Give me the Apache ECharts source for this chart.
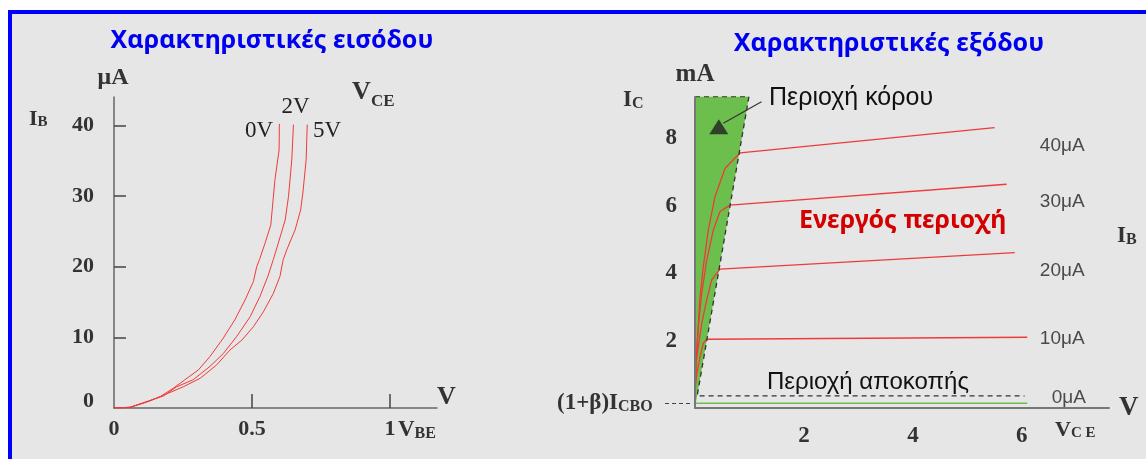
<!DOCTYPE html>
<html>
<head>
<meta charset="utf-8">
<style>
  html, body { margin: 0; padding: 0; background: #ffffff; }
  #frame {
    position: absolute; left: 8px; top: 10px; width: 1138px; height: 449px;
    box-sizing: border-box; border-left: 4px solid #0000ff; border-top: 4px solid #0000ff;
    background: #e6e6e6;
  }
  #chart { position: absolute; left: 0; top: 0; width: 1146px; height: 459px; }
</style>
<script src="https://cdn.jsdelivr.net/npm/echarts@6/dist/echarts.min.js"></script>
</head>
<body>
<div id="frame"></div>
<div id="chart"></div>
<script>
// ---- Input characteristics: I_B (μA) vs V_BE (V) for three V_CE values ----
const vceLabels = ['0V', '2V', '5V'];
const inputCurve0V = [[0,0],[0.058,0.1],[0.106,0.67],[0.167,1.6],[0.215,2.8],[0.257,4.0],[0.306,5.4],[0.348,7.3],[0.396,9.9],[0.438,12.5],[0.475,15.3],[0.505,17.9],[0.517,20.0],[0.527,21.0],[0.547,23.3],[0.568,25.9],[0.583,32.3],[0.598,36.5],[0.599,40.2]];
const inputCurve2V = [[0,0],[0.058,0.1],[0.118,0.9],[0.179,1.7],[0.227,3.0],[0.287,4.0],[0.348,5.9],[0.396,7.7],[0.444,10.1],[0.493,12.9],[0.529,15.8],[0.559,18.8],[0.577,21.0],[0.595,23.3],[0.620,26.6],[0.632,29.9],[0.644,35.1],[0.650,40.1]];
const inputCurve5V = [[0,0],[0.058,0.1],[0.130,1.0],[0.197,2.1],[0.251,3.0],[0.312,4.2],[0.372,6.1],[0.420,8.2],[0.463,9.6],[0.505,11.5],[0.541,13.6],[0.577,16.2],[0.601,18.6],[0.613,21.0],[0.626,22.4],[0.656,25.2],[0.676,28.0],[0.684,30.4],[0.696,35.1],[0.700,40.1]];
const ibTicks = [10, 20, 30, 40];
const ibTickLabels = [0, 10, 20, 30, 40];
const vbeTicks = [0.5, 1];
const vbeTickLabels = [0, 0.5, 1];

// ---- Output characteristics: I_C (mA) vs V_CE (V) for several I_B values ----
const baseCurrentLabels = ['40μA', '30μA', '20μA', '10μA', '0μA'];
const outputCurve40 = [[0,0.15],[0,1.04],[0.037,1.82],[0.092,3.30],[0.152,4.19],[0.244,5.28],[0.367,6.27],[0.55,7.11],[0.734,7.42],[0.83,7.57],[5.5,8.32]];
const outputCurve30 = [[0,0.15],[0.02,1.3],[0.055,2.31],[0.123,3.40],[0.215,4.39],[0.336,5.28],[0.459,5.83],[0.642,6.02],[5.72,6.64]];
const outputCurve20 = [[0,0.15],[0.018,1.34],[0.061,1.82],[0.123,2.51],[0.215,3.20],[0.306,3.80],[0.459,4.12],[5.87,4.61]];
const outputCurve10 = [[0,0.15],[0,0.63],[0.037,1.04],[0.092,1.52],[0.152,1.92],[0.215,2.04],[6.1,2.10]];
const outputCurve0 = [[0,0.14],[6.1,0.14]];
const baseLabelLevels = [7.77, 6.12, 4.07, 2.05, 0.31];
const baseLabelVce = [6.33, 6.33, 6.33, 6.33, 6.55];
const saturationRegion = [[0,0],[0,9.24],[0.99,9.24]];
const regionBoundary = [[0,9.24],[0.99,9.24],[0.04,0.36],[6.05,0.36]];
const arrowLeader = [[1.22,9.09],[0.52,8.45]];
const arrowHead = [[0.437,8.35]];
const icTicks = [2, 4, 6, 8];
const vceTicks = [2, 4, 6];

const SERIF = '"Liberation Serif", "Times New Roman", serif';
const SANS = '"Liberation Sans", Arial, sans-serif';
const NARROW = '"Liberation Sans Narrow", "Liberation Sans", Arial, sans-serif';
const TITLE = '"Noto Sans", "Open Sans", sans-serif';
const RED = '#f03a3a';
const GREEN = '#6cbf4c';
const INK = '#333333';

const chart = echarts.init(document.getElementById('chart'), null, { renderer: 'canvas' });

function text(x, y, str, style) {
  return { type: 'text', x: x, y: y, silent: true, z: 100,
    style: Object.assign({ text: str, align: 'left', verticalAlign: 'middle', fill: INK }, style) };
}
function serifBold(size) { return { fontFamily: SERIF, fontWeight: 'bold', fontSize: size, fill: INK }; }

const axisNumLabel = {
  fontFamily: SERIF, fontWeight: 'bold', fontSize: 22, color: INK
};

function curve(data, xi, color, width) {
  return { type: 'line', xAxisIndex: xi, yAxisIndex: xi, data: data, showSymbol: false, symbol: 'none',
    smooth: false, lineStyle: { color: color, width: width }, z: 3, silent: true };
}

const option = {
  animation: false,
  backgroundColor: 'transparent',
  grid: [
    { left: 114, top: 97, width: 323, height: 311 },
    { left: 695, top: 97, width: 414, height: 311 }
  ],
  xAxis: [
    { type: 'value', gridIndex: 0, min: 0, max: 1.17,
      axisLine: { lineStyle: { color: '#666', width: 1.5 } },
      axisTick: { show: true, inside: true, length: 14, customValues: vbeTicks, lineStyle: { color: '#444', width: 1.5 } },
      axisLabel: Object.assign({ customValues: vbeTickLabels, margin: 10 }, axisNumLabel),
      splitLine: { show: false } },
    { type: 'value', gridIndex: 1, min: 0, max: 7.6,
      axisLine: { lineStyle: { color: '#777', width: 2 } },
      axisTick: { show: false },
      axisLabel: Object.assign({ customValues: vceTicks, margin: 17 }, axisNumLabel, { fontSize: 23 }),
      splitLine: { show: false } }
  ],
  yAxis: [
    { type: 'value', gridIndex: 0, min: 0, max: 44,
      axisLine: { show: true, lineStyle: { color: '#666', width: 1.5 } },
      axisTick: { show: true, inside: true, length: 12, customValues: ibTicks, lineStyle: { color: '#444', width: 1.5 } },
      axisLabel: Object.assign({ customValues: ibTickLabels, margin: 20,
        formatter: function (v) { return v === 0 ? '{z|0}' : String(v); },
        rich: { z: { fontFamily: SERIF, fontWeight: 'bold', fontSize: 22, color: INK, padding: [0, 0, 14, 0] } }
      }, axisNumLabel),
      splitLine: { show: false } },
    { type: 'value', gridIndex: 1, min: 0, max: 9.23, z: 6,
      axisLine: { show: true, lineStyle: { color: '#777', width: 2 } },
      axisTick: { show: false },
      axisLabel: Object.assign({ customValues: icTicks, margin: 18 }, axisNumLabel, { fontSize: 23 }),
      splitLine: { show: false } }
  ],
  series: [
    curve(inputCurve0V, 0, RED, 1),
    curve(inputCurve2V, 0, RED, 1),
    curve(inputCurve5V, 0, RED, 1),
    { type: 'custom', xAxisIndex: 1, yAxisIndex: 1, data: [0], z: 1, silent: true,
      renderItem: function (params, api) {
        return { type: 'polygon', shape: { points: saturationRegion.map(function (p) { return api.coord(p); }) },
          style: { fill: GREEN } };
      } },
    curve(outputCurve0, 1, GREEN, 1.5),
    curve(outputCurve10, 1, RED, 1.3),
    curve(outputCurve20, 1, RED, 1.3),
    curve(outputCurve30, 1, RED, 1.3),
    curve(outputCurve40, 1, RED, 1.3),
    { type: 'line', xAxisIndex: 1, yAxisIndex: 1, data: regionBoundary, showSymbol: false, symbol: 'none', z: 4, silent: true,
      lineStyle: { color: '#333', width: 1.3, type: [5, 4] } },
    { type: 'line', xAxisIndex: 1, yAxisIndex: 1, data: arrowLeader, showSymbol: false, symbol: 'none', z: 4, silent: true,
      lineStyle: { color: '#333', width: 1.2 } },
    { type: 'scatter', xAxisIndex: 1, yAxisIndex: 1, data: arrowHead, symbol: 'triangle', symbolSize: [19, 15], z: 5, silent: true,
      itemStyle: { color: '#222' } },
    { type: 'scatter', xAxisIndex: 1, yAxisIndex: 1, silent: true, symbolSize: 0, z: 5,
      data: baseCurrentLabels.map(function (t, i) { return { value: [baseLabelVce[i], baseLabelLevels[i]], name: t }; }),
      label: { show: true, position: 'right', distance: 0, formatter: '{b}',
        fontFamily: NARROW, fontSize: 19, color: '#222' } }
  ],
  graphic: [
    // titles
    text(272, 41, 'Χαρακτηριστικές εισόδου', { align: 'center', fontFamily: TITLE, fontWeight: 'bold', fontSize: 25, fill: '#0000f0' }),
    text(889, 44, 'Χαρακτηριστικές εξόδου', { align: 'center', fontFamily: TITLE, fontWeight: 'bold', fontSize: 25, fill: '#0000f0' }),
    // input characteristic axis titles
    text(113, 77.5, 'μA', Object.assign(serifBold(24), { align: 'center' })),
    text(29, 119, '{i|I}{s|B}', { rich: {
      i: { fontFamily: SERIF, fontWeight: 'bold', fontSize: 22, fill: INK, verticalAlign: 'bottom' },
      s: { fontFamily: SERIF, fontWeight: 'bold', fontSize: 15, fill: INK, verticalAlign: 'bottom' } } }),
    text(352, 92.5, 'V', serifBold(26)),
    text(371, 102, 'CE', serifBold(17)),
    text(245, 131, vceLabels[0], { fontFamily: SERIF, fontSize: 23, fill: '#222' }),
    text(281.5, 106.5, vceLabels[1], { fontFamily: SERIF, fontSize: 23, fill: '#222' }),
    text(313, 131, vceLabels[2], { fontFamily: SERIF, fontSize: 23, fill: '#222' }),
    text(437, 397, 'V', serifBold(26)),
    text(398, 430, '{v|V}{s|BE}', { rich: {
      v: { fontFamily: SERIF, fontWeight: 'bold', fontSize: 23, fill: INK, verticalAlign: 'bottom' },
      s: { fontFamily: SERIF, fontWeight: 'bold', fontSize: 16, fill: INK, verticalAlign: 'bottom' } } }),
    // output characteristic axis titles
    text(695, 75, 'mA', Object.assign(serifBold(25), { align: 'center' })),
    text(623, 100.5, '{i|I}{s|C}', { rich: {
      i: { fontFamily: SERIF, fontWeight: 'bold', fontSize: 23, fill: INK, verticalAlign: 'bottom' },
      s: { fontFamily: SERIF, fontWeight: 'bold', fontSize: 16, fill: INK, verticalAlign: 'bottom' } } }),
    text(557, 403, '{a|(1+β)I}{s|CBO}', { rich: {
      a: { fontFamily: SERIF, fontWeight: 'bold', fontSize: 23, fill: INK, verticalAlign: 'bottom' },
      s: { fontFamily: SERIF, fontWeight: 'bold', fontSize: 16, fill: INK, verticalAlign: 'bottom' } } }),
    { type: 'line', silent: true, z: 100, shape: { x1: 665, y1: 403.5, x2: 692, y2: 403.5 },
      style: { stroke: '#444', lineWidth: 1.2, lineDash: [4, 3] } },
    text(1117, 236, '{i|I}{s|B}', { rich: {
      i: { fontFamily: SERIF, fontWeight: 'bold', fontSize: 23, fill: INK, verticalAlign: 'bottom' },
      s: { fontFamily: SERIF, fontWeight: 'bold', fontSize: 16, fill: INK, verticalAlign: 'bottom' } } }),
    text(1119, 408, 'V', serifBold(27)),
    text(1055, 430, '{v|V}{s|C E}', { rich: {
      v: { fontFamily: SERIF, fontWeight: 'bold', fontSize: 22, fill: INK, verticalAlign: 'bottom' },
      s: { fontFamily: SERIF, fontWeight: 'bold', fontSize: 15, fill: INK, verticalAlign: 'bottom' } } }),
    // region annotations
    text(769, 98.5, 'Περιοχή κόρου', { fontFamily: SANS, fontSize: 25, fill: '#111' }),
    text(799, 221, 'Ενεργός περιοχή', { fontFamily: TITLE, fontWeight: 'bold', fontSize: 25, fill: '#d40000' }),
    text(767, 382, 'Περιοχή αποκοπής', { fontFamily: SANS, fontSize: 24, fill: '#111' })
  ]
};

chart.setOption(option);
</script>
</body>
</html>
